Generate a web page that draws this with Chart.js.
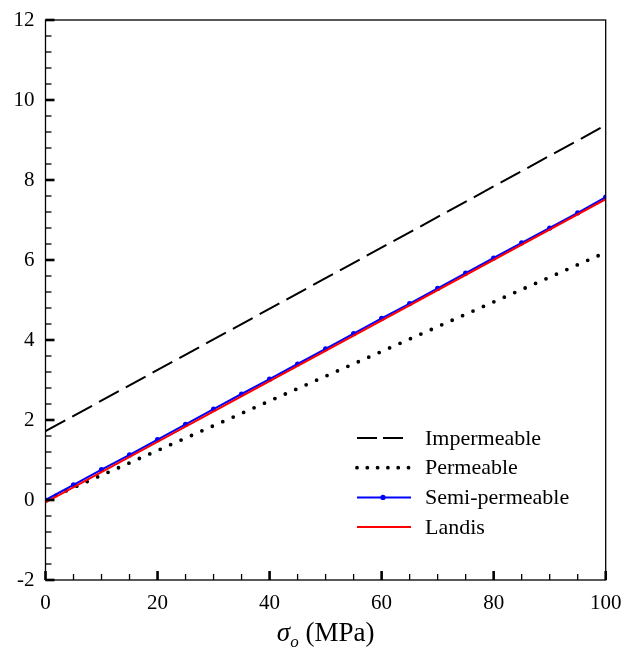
<!DOCTYPE html>
<html>
<head>
<meta charset="utf-8">
<script src="https://cdn.jsdelivr.net/npm/chart.js@4/dist/chart.umd.min.js"></script>
<style>
    html, body { margin: 0; padding: 0; background: #ffffff; }
    #box { width: 625px; height: 661px; position: relative; }
</style>
</head>
<body>
<div id="box"><canvas id="grafico"></canvas></div>
<script>
"use strict";

/********************************************************************
 * Dados
 ********************************************************************/
const sigmaPontos = [0, 5, 10, 15, 20, 25, 30, 35, 40, 45, 50, 55, 60, 65, 70, 75, 80, 85, 90, 95, 100];
const sigmaExtremos = [0, 100];

const impermeavel = [1.72, 9.37];
const permeavel = [0.0, 6.19];
const semiPermeavel = [0.00, 0.38, 0.76, 1.13, 1.51, 1.89, 2.27, 2.65, 3.02, 3.40, 3.78,
                       4.16, 4.54, 4.91, 5.29, 5.67, 6.05, 6.43, 6.80, 7.18, 7.57];
const landis = [-0.06, 7.52];

const rotulos = ["Impermeable", "Permeable", "Semi-permeable", "Landis"];

const ticksX = [0, 20, 40, 60, 80, 100];
const ticksY = [-2, 0, 2, 4, 6, 8, 10, 12];

const FONTE = "'Liberation Serif', 'Times New Roman', serif";

function pares(xs, ys) {
    return xs.map((x, i) => ({ x: x, y: ys[i] }));
}

/********************************************************************
 * Moldura e marcas de escala (para dentro)
 ********************************************************************/
const marcasInternas = {

    id: "marcasInternas",

    afterDatasetsDraw(chart) {

        const ctx = chart.ctx;
        const a = chart.chartArea;
        const sx = chart.scales.x;
        const sy = chart.scales.y;

        ctx.save();
        ctx.strokeStyle = "#000";
        ctx.lineWidth = 1.3;
        ctx.strokeRect(a.left, a.top, a.right - a.left, a.bottom - a.top);

        // eixo x: principal a cada 20, secundária a cada 5
        for (let v = 0; v <= 100; v += 5) {
            const major = v % 20 === 0;
            const px = sx.getPixelForValue(v);
            ctx.lineWidth = major ? 2.6 : 1.3;
            ctx.beginPath();
            ctx.moveTo(px, a.bottom);
            ctx.lineTo(px, a.bottom - (major ? 9 : 6));
            ctx.stroke();
        }

        // eixo y: principal a cada 2, secundária a cada 0.4
        for (let i = 0; i <= 35; i++) {
            const v = -2 + i * 0.4;
            const major = i % 5 === 0;
            const py = sy.getPixelForValue(v);
            ctx.lineWidth = major ? 2.6 : 1.3;
            ctx.beginPath();
            ctx.moveTo(a.left, py);
            ctx.lineTo(a.left + (major ? 9 : 6), py);
            ctx.stroke();
        }

        ctx.restore();

    }

};

/********************************************************************
 * Legenda dentro da área do gráfico
 ********************************************************************/
const legendaInterna = {

    id: "legendaInterna",

    afterDraw(chart) {

        const ctx = chart.ctx;
        const x0 = 357;
        const xt = 425;
        const y0 = 438;
        const passo = 29.7;

        ctx.save();
        ctx.font = "22px " + FONTE;
        ctx.textBaseline = "middle";
        ctx.fillStyle = "#000";

        chart.data.datasets.forEach((ds, i) => {

            const y = y0 + i * passo;
            const x1 = ds.legendaFim || 411;

            ctx.strokeStyle = ds.borderColor;
            ctx.lineWidth = ds.borderWidth;
            ctx.lineCap = ds.borderCapStyle || "butt";
            ctx.setLineDash(ds.legendaTraco || ds.borderDash || []);
            ctx.beginPath();
            ctx.moveTo(x0, y);
            ctx.lineTo(x1, y);
            ctx.stroke();
            ctx.setLineDash([]);

            if (ds.pointRadius > 0) {
                ctx.fillStyle = ds.pointBackgroundColor;
                ctx.beginPath();
                ctx.arc(383, y, ds.pointRadius, 0, Math.PI * 2);
                ctx.fill();
                ctx.fillStyle = "#000";
            }

            ctx.fillText(ds.label, xt, y + 1);

        });

        ctx.restore();

    }

};

/********************************************************************
 * Título do eixo x: sigma com índice o
 ********************************************************************/
const tituloX = {

    id: "tituloX",

    afterDraw(chart) {

        const ctx = chart.ctx;
        const a = chart.chartArea;
        const base = 641;

        ctx.save();
        ctx.fillStyle = "#000";
        ctx.textBaseline = "alphabetic";

        const fSigma = "italic 27px " + FONTE;
        const fIndice = "italic 17px " + FONTE;
        const fResto = "27px " + FONTE;
        const resto = " (MPa)";

        ctx.font = fSigma;
        const wS = ctx.measureText("σ").width;
        ctx.font = fIndice;
        const wI = ctx.measureText("o").width;
        ctx.font = fResto;
        const wR = ctx.measureText(resto).width;

        let x = (a.left + a.right) / 2 - (wS + wI + wR) / 2;

        ctx.font = fSigma;
        ctx.fillText("σ", x, base);
        x += wS;
        ctx.font = fIndice;
        ctx.fillText("o", x, base + 6);
        x += wI;
        ctx.font = fResto;
        ctx.fillText(resto, x, base);

        ctx.restore();

    }

};

/********************************************************************
 * Gráfico
 ********************************************************************/
function criarGrafico() {

    const canvas = document.getElementById("grafico");

    if (!canvas) return;

    new Chart(canvas, {

        type: "scatter",

        data: {

            datasets: [

                {
                    label: rotulos[0],
                    data: pares(sigmaExtremos, impermeavel),
                    showLine: true,
                    borderColor: "#000000",
                    borderWidth: 2,
                    borderDash: [22.5, 8],
                    legendaTraco: [20, 6],
                    legendaFim: 403,
                    pointRadius: 0,
                    order: 3
                },

                {
                    label: rotulos[1],
                    data: pares(sigmaExtremos, permeavel),
                    showLine: true,
                    borderColor: "#000000",
                    borderWidth: 3.8,
                    borderDash: [0, 11.4],
                    legendaTraco: [0, 10.3],
                    legendaFim: 409,
                    borderCapStyle: "round",
                    pointRadius: 0,
                    order: 2
                },

                {
                    label: rotulos[2],
                    data: pares(sigmaPontos, semiPermeavel),
                    showLine: true,
                    borderColor: "#0000ff",
                    borderWidth: 2,
                    pointRadius: 2.6,
                    pointBorderWidth: 0,
                    pointBackgroundColor: "#0000ff",
                    order: 1
                },

                {
                    label: rotulos[3],
                    data: pares(sigmaExtremos, landis),
                    showLine: true,
                    borderColor: "#ff0000",
                    borderWidth: 2,
                    pointRadius: 0,
                    order: 0
                }

            ]

        },

        options: {

            responsive: true,

            maintainAspectRatio: false,

            animation: false,

            layout: {

                padding: { left: 0, right: 19.3, top: 20, bottom: 0 }

            },

            plugins: {

                legend: { display: false },

                tooltip: { enabled: false }

            },

            scales: {

                x: {

                    type: "linear",
                    min: 0,
                    max: 100,
                    afterBuildTicks: s => { s.ticks = ticksX.map(v => ({ value: v })); },
                    afterFit: s => {
                        s.height = 81;
                        s.paddingLeft = 0;
                        s.paddingRight = 0;
                    },
                    grid: { display: false, drawTicks: false },
                    border: { display: false },
                    ticks: {
                        padding: 11,
                        maxRotation: 0,
                        color: "#000",
                        font: { family: FONTE, size: 21 }
                    }

                },

                y: {

                    type: "linear",
                    min: -2,
                    max: 12,
                    afterBuildTicks: s => { s.ticks = ticksY.map(v => ({ value: v })); },
                    afterFit: s => {
                        s.width = 45.5;
                        s.paddingTop = 0;
                        s.paddingBottom = 0;
                    },
                    grid: { display: false, drawTicks: false },
                    border: { display: false },
                    ticks: {
                        padding: 11,
                        color: "#000",
                        font: { family: FONTE, size: 21 }
                    }

                }

            }

        },

        plugins: [marcasInternas, legendaInterna, tituloX]

    });

}

criarGrafico();
</script>
</body>
</html>
